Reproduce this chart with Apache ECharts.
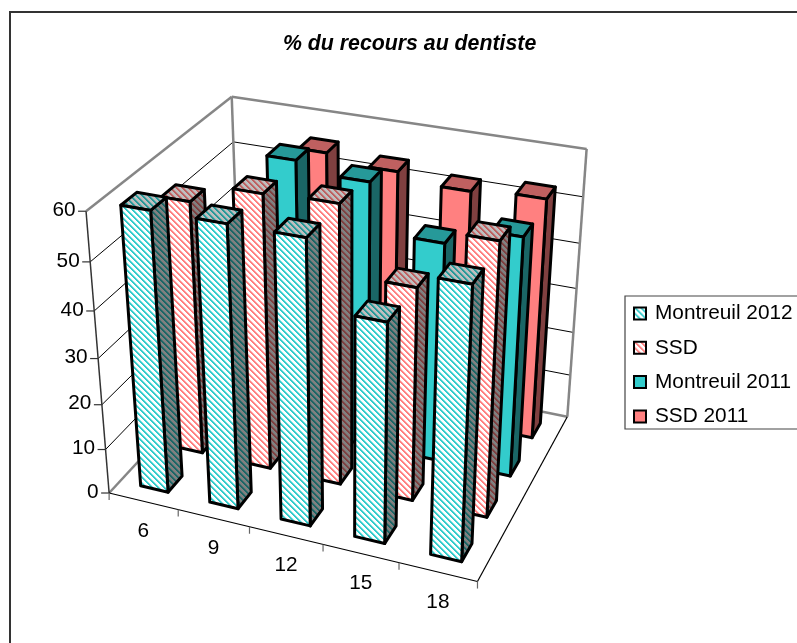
<!DOCTYPE html>
<html>
<head>
<meta charset="utf-8">
<style>html,body{margin:0;padding:0;background:#fff;overflow:hidden}#c{width:797px;height:643px}</style>
<script src="https://cdn.jsdelivr.net/npm/echarts@6/dist/echarts.min.js"></script>
</head>
<body>
<div id="c"></div>
<script>
// ---- data ----
const categories = ['6', '9', '12', '15', '18'];
const valueTicks = [0, 10, 20, 30, 40, 50, 60];
const montreuil2012 = [60, 60, 60, 46.6, 56.8];
const ssd2012 = [55.3, 59.4, 60, 46, 58];
const montreuil2011 = [null, 60, 58, 48, 52];
const ssd2011 = [null, 55.6, 54, 52.3, 53.2];
const chartTitle = '% du recours au dentiste';

// ---- camera calibration: [X, depth, value, px, py] ----
const cal = [
 [0,0,0,109,493],[1,0,0,178,509],[2,0,0,250,527],[3,0,0,324,545],[4,0,0,399,563],[5,0,0,477,582],
 [0,0,10,105.7,449],[0,0,20,101.7,403],[0,0,30,97.7,358],[0,0,40,94,312],[0,0,50,90.3,262],[0,0,60,86,212],
 [0,4,0,241,352],[0,4,50,233,142],[0,4,60,232,96],
 [5,4,0,568,417],[5,4,10,570,375],[5,4,20,572,332],[5,4,30,577,287],[5,4,40,579,243],[5,4,50,583,197],[5,4,60,588,150]
];
function solveCamera(rows){
  const n=11, A=[...Array(n)].map(()=>Array(n+1).fill(0));
  const add=(r,b)=>{for(let i=0;i<n;i++){for(let j=0;j<n;j++)A[i][j]+=r[i]*r[j];A[i][n]+=r[i]*b;}};
  rows.forEach(([X,Y,Z,u,v])=>{
    const x=X/5,y=Y/4,z=Z/60,s=u/500,t=v/500;
    add([x,y,z,1,0,0,0,0,-s*x,-s*y,-s*z],s);
    add([0,0,0,0,x,y,z,1,-t*x,-t*y,-t*z],t);
  });
  for(let i=0;i<n;i++){
    let m=i;for(let k=i+1;k<n;k++)if(Math.abs(A[k][i])>Math.abs(A[m][i]))m=k;
    [A[i],A[m]]=[A[m],A[i]];
    for(let k=0;k<n;k++)if(k!==i){const f=A[k][i]/A[i][i];for(let j=i;j<=n;j++)A[k][j]-=f*A[i][j];}
  }
  return A.map((r,i)=>r[n]/r[i]);
}
const P=solveCamera(cal);
function project(X,Y,Z){
  const x=X/5,y=Y/4,z=Z/60,w=P[8]*x+P[9]*y+P[10]*z+1;
  return [500*(P[0]*x+P[1]*y+P[2]*z+P[3])/w,500*(P[4]*x+P[5]*y+P[6]*z+P[7])/w];
}
// hidden cartesian grid supplies the scales; its pixels become scene units
const G={left:100,top:100,width:500,height:400};
const toScene=pt=>[(pt[0]-G.left)/G.width*categories.length,(G.top+G.height-pt[1])/G.height*60];

function hatch(bg,fg){
  const n=6,c=document.createElement('canvas');c.width=c.height=n;
  const g=c.getContext('2d');g.fillStyle=bg;g.fillRect(0,0,n,n);g.fillStyle=fg;
  for(let y=0;y<n;y++)for(let x=0;x<n;x++){
    const k=(x-y+n*2)%n;
    if(k<2){g.globalAlpha=1;g.fillRect(x,y,1,1);}
    else if(k===2){g.globalAlpha=0.5;g.fillRect(x,y,1,1);}
  }
  return {image:c,repeat:'repeat'};
}
const LW=3;
const teal={front:'#33CCCC',top:'#269999',side:'#1A6666'};
const pink={front:'#FF8080',top:'#BF6060',side:'#804040'};
const hatched=c=>({front:hatch('#FFFFFF',c.front),top:hatch('#BFBFBF',c.top),side:hatch('#808080',c.side)});
const solid=c=>c;

function barRenderer(row,faces){
  return function(params,api){
    const pt=api.coord([api.value(0),api.value(1)]);
    const [cx,val]=toScene(pt);
    const x0=cx-0.2,x1=cx+0.2,y0=row+0.3,y1=row+0.7;
    const poly=(pts,fill)=>({type:'polygon',shape:{points:pts},style:{fill,stroke:'#000',lineWidth:LW,lineJoin:'round'}});
    return {type:'group',children:[
      poly([project(x1,y0,0),project(x1,y1,0),project(x1,y1,val),project(x1,y0,val)],faces.side),
      poly([project(x0,y0,val),project(x1,y0,val),project(x1,y1,val),project(x0,y1,val)],faces.top),
      poly([project(x0,y0,0),project(x1,y0,0),project(x1,y0,val),project(x0,y0,val)],faces.front)
    ]};
  };
}
function rows(values){return values.map((v,i)=>v==null?null:[i,v]).filter(Boolean);}
function barSeries(name,values,row,faces){
  return {name,type:'custom',xAxisIndex:0,yAxisIndex:0,z:10-row,silent:true,clip:false,
    itemStyle:{color:faces.front,borderColor:'#000',borderWidth:LW},
    encode:{x:0,y:1},data:rows(values),renderItem:barRenderer(row,faces)};
}
function line(a,b,color,width){
  return {type:'line',shape:{x1:a[0],y1:a[1],x2:b[0],y2:b[1]},style:{stroke:color,lineWidth:width}};
}
const FONT='20.8px "Liberation Sans", Arial, sans-serif';
function wallRenderer(params,api){
  const nX=categories.length,D=4,gray='#868686',kids=[];
  valueTicks.forEach(t=>{
    const z=toScene(api.coord([0,t]))[1];
    if(t>0&&t<60){kids.push(line(project(0,0,z),project(0,D,z),'#000',1));kids.push(line(project(0,D,z),project(nX,D,z),'#000',1));}
    const p=project(0,0,z);
    kids.push(line([p[0]-8,p[1]],p,'#333',1.2));
    kids.push({type:'text',style:{text:String(t),x:p[0]-10.5,y:p[1]-1,font:FONT,fill:'#000',textAlign:'right',textVerticalAlign:'middle'}});
  });
  const c=(x,y,z)=>project(x,y,z);
  kids.push(line(c(0,0,60),c(0,D,60),gray,2.5),line(c(0,D,60),c(nX,D,60),gray,2.5),line(c(nX,D,60),c(nX,D,0),gray,2.5),
            line(c(0,D,60),c(0,D,0),gray,2.5),line(c(0,D,0),c(nX,D,0),gray,2.5),line(c(0,0,0),c(0,D,0),gray,2.5));
  kids.push(line(c(0,0,0),c(0,0,60),'#333',1.5),line(c(0,0,0),c(nX,0,0),'#000',1.2),line(c(nX,0,0),c(nX,D,0),'#000',1.2));
  for(let i=0;i<=nX;i++){const p=c(i,0,0);kids.push(line(p,[p[0],p[1]+7],'#666',1.2));}
  categories.forEach((name,i)=>{
    const X=toScene(api.coord([i,0]))[0],p=c(X,0,0);
    kids.push({type:'text',style:{text:name,x:p[0],y:p[1]+30,font:FONT,fill:'#000',textAlign:'center',textVerticalAlign:'middle'}});
  });
  return {type:'group',children:kids};
}

const chart=echarts.init(document.getElementById('c'),null,{renderer:'canvas'});
chart.setOption({
  animation:false,backgroundColor:'#fff',
  title:{text:chartTitle,left:283,top:34,padding:0,textStyle:{fontFamily:'"Liberation Sans", Arial',fontSize:21.3,fontWeight:'bold',fontStyle:'italic',color:'#000'}},
  grid:{left:G.left,top:G.top,width:G.width,height:G.height,show:false},
  xAxis:{type:'category',data:categories,show:false},
  yAxis:{type:'value',min:0,max:60,interval:10,show:false},
  legend:{orient:'vertical',left:633,top:303,data:['Montreuil 2012','SSD','Montreuil 2011','SSD 2011'],icon:'rect',
    itemWidth:12,itemHeight:12,itemGap:13.3,padding:0,selectedMode:false,
    textStyle:{fontFamily:'"Liberation Sans", Arial',fontSize:20.8,color:'#000',padding:[0,0,0,4]}},
  graphic:[
    {type:'polyline',z:0,silent:true,shape:{points:[[10,643],[10,12],[797,12]]},style:{fill:null,stroke:'#333',lineWidth:2}},
    {type:'polyline',z:0,silent:true,shape:{points:[[800,296],[625,296],[625,429],[800,429]]},style:{fill:null,stroke:'#444',lineWidth:1.2}}
  ],
  series:[
    {type:'custom',z:1,silent:true,clip:false,encode:{x:0,y:1},data:[[0,0]],renderItem:wallRenderer},
    barSeries('Montreuil 2012',montreuil2012,0,hatched(teal)),
    barSeries('SSD',ssd2012,1,hatched(pink)),
    barSeries('Montreuil 2011',montreuil2011,2,solid(teal)),
    barSeries('SSD 2011',ssd2011,3,solid(pink))
  ]
});
</script>
</body>
</html>
